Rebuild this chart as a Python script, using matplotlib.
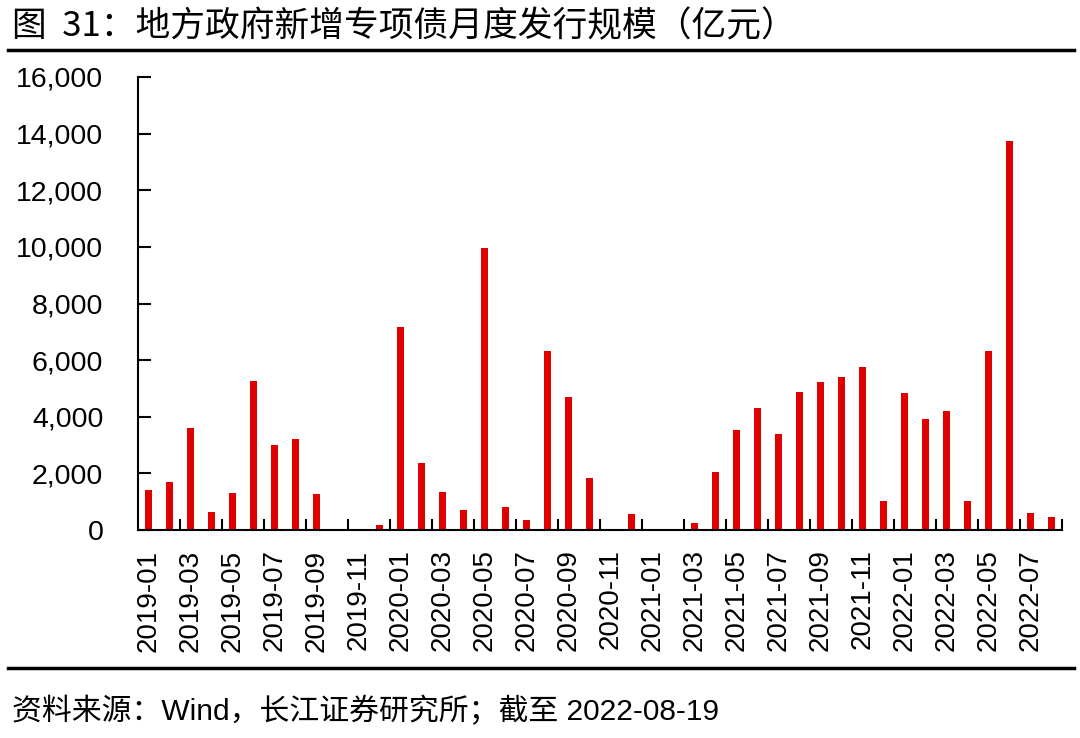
import matplotlib
matplotlib.use("Agg")
import matplotlib.pyplot as plt
from matplotlib.lines import Line2D
import numpy as np

plt.rcParams['font.family'] = ['Liberation Sans', 'Noto Sans CJK SC', 'DejaVu Sans']

# monthly data, 2019-01 .. 2022-08 (亿元)
months = [f"{y}-{m:02d}" for y in range(2019, 2023) for m in range(1, 13)][:44]
issuance = [1400, 1680, 3600, 640, 1310, 5270, 3000, 3210, 1260, 0, 0, 190,
            7160, 2360, 1340, 710, 9970, 810, 350, 6310, 4700, 1820, 0, 555,
            0, 0, 260, 2065, 3530, 4295, 3400, 4885, 5230, 5400, 5760, 1015,
            4840, 3930, 4210, 1040, 6325, 13735, 615, 460]

fig = plt.figure(figsize=(10.8, 7.38), dpi=100)
ax = fig.add_axes([138 / 1080, 1 - 530 / 738, 924 / 1080, 453 / 738])

x = np.arange(len(months))
ax.bar(x, issuance, width=0.34, color='#E00000')

ax.set_xlim(-0.5, len(months) - 0.5)
ax.set_ylim(0, 16000)
ax.set_yticks(range(0, 16001, 2000))
ax.set_yticklabels([f"{v:,}" for v in range(0, 16001, 2000)], fontsize=20.5)

ax.set_xticks(x[::2])
ax.set_xticklabels(months[::2], rotation=90, fontsize=20)
ax.set_xticks(np.arange(1.5, len(months), 2), minor=True)
ax.tick_params(axis='x', which='major', length=0, pad=14)
ax.tick_params(axis='x', which='minor', direction='in', length=8, width=1.5)
ax.tick_params(axis='y', direction='in', length=9, width=1.5, pad=25)

for s in ['top', 'right']:
    ax.spines[s].set_visible(False)
for s in ['left', 'bottom']:
    ax.spines[s].set_linewidth(1.5)

fig.text(12 / 1080, 1 - 27 / 738, "图  31：地方政府新增专项债月度发行规模（亿元）",
         fontsize=25, va='center', ha='left',
         family=['Noto Sans CJK SC', 'Liberation Sans'])
fig.add_artist(Line2D([8 / 1080, 1074 / 1080], [1 - 49.5 / 738, 1 - 49.5 / 738],
                      color='black', lw=2.5))
fig.add_artist(Line2D([8 / 1080, 1074 / 1080], [1 - 668 / 738, 1 - 668 / 738],
                      color='black', lw=2.5))
fig.text(12 / 1080, 1 - 711 / 738, "资料来源：Wind，长江证券研究所；截至 2022-08-19",
         fontsize=21.5, va='center', ha='left')

fig.savefig("out.png", dpi=100)
